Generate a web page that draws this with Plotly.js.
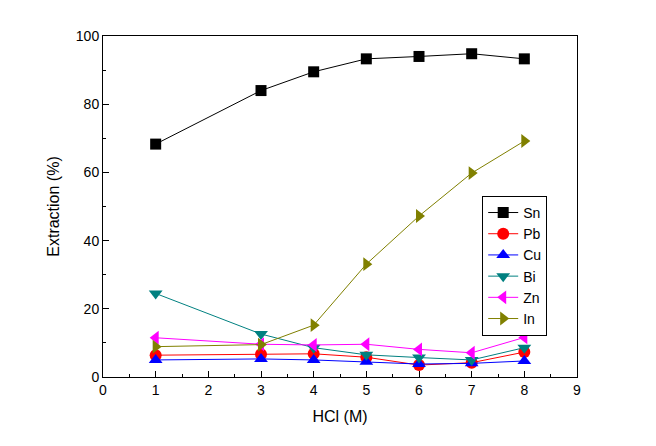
<!DOCTYPE html>
<html>
<head>
<meta charset="utf-8">
<script src="https://cdn.plot.ly/plotly-3.0.1.min.js"></script>
<style>
  body { margin: 0; background: #fff; }
  #chart { width: 656px; height: 446px; }
</style>
</head>
<body>
<div id="chart"></div>
<script>
// HCl concentration (M)
let hcl = [1, 3, 4, 5, 6, 7, 8];

// extraction (%) per metal
let sn = [68.3, 84.0, 89.5, 93.3, 94.0, 94.8, 93.3];
let pb = [6.4, 6.7, 6.8, 5.8, 3.5, 4.2, 7.3];
let cu = [5.0, 5.3, 5.0, 4.5, 3.8, 4.0, 4.7];
let bi = [24.5, 12.6, 8.6, 6.5, 5.7, 5.0, 8.6];
let zn = [11.5, 9.6, 9.4, 9.6, 8.1, 7.1, 11.6];
let inn = [8.9, 9.5, 15.2, 33.1, 47.2, 59.8, 69.2];

let names = ['Sn', 'Pb', 'Cu', 'Bi', 'Zn', 'In'];
let series = [sn, pb, cu, bi, zn, inn];
let colors = ['#000000', '#ff0000', '#0000ff', '#008080', '#ff00ff', '#808000'];
let symbols = ['square', 'circle', 'triangle-up', 'triangle-down', 'triangle-left', 'triangle-right'];
let sizes = [11, 12, 12, 12, 12, 12];

let traces = [];
for (let i = 0; i < names.length; i++) {
  traces.push({
    x: hcl,
    y: series[i],
    name: names[i],
    type: 'scatter',
    mode: 'lines+markers',
    line: {color: colors[i], width: 1},
    marker: {color: colors[i], symbol: symbols[i], size: sizes[i]}
  });
}

let fam = 'Liberation Sans, Arial, sans-serif';
let axisFont = {family: fam, size: 16, color: '#000'};

let layout = {
  width: 656,
  height: 446,
  margin: {l: 103, r: 79, t: 36, b: 69},
  paper_bgcolor: '#fff',
  plot_bgcolor: '#fff',
  font: {family: fam, size: 14, color: '#000'},
  showlegend: true,
  legend: {
    x: 0.80, y: 0.531, xanchor: 'left', yanchor: 'top',
    bordercolor: '#000', borderwidth: 1, bgcolor: '#fff',
    font: {family: fam, size: 14, color: '#000'},
    tracegroupgap: 0, itemwidth: 30
  },
  xaxis: {
    range: [0, 9],
    dtick: 1,
    showgrid: false,
    zeroline: false,
    showline: true,
    linecolor: '#000',
    linewidth: 1,
    mirror: true,
    ticks: 'inside',
    ticklen: 6,
    tickcolor: '#000',
    minor: {ticks: 'inside', ticklen: 3, dtick: 0.5, tickcolor: '#000', showgrid: false},
    title: {text: 'HCl (M)', font: axisFont, standoff: 14}
  },
  yaxis: {
    range: [0, 100],
    dtick: 20,
    showgrid: false,
    zeroline: false,
    showline: true,
    linecolor: '#000',
    linewidth: 1,
    mirror: true,
    ticks: 'inside',
    ticklen: 6,
    tickcolor: '#000',
    minor: {ticks: 'inside', ticklen: 3, dtick: 10, tickcolor: '#000', showgrid: false},
    title: {text: 'Extraction (%)', font: axisFont, standoff: 12}
  }
};

Plotly.newPlot('chart', traces, layout, {displayModeBar: false, staticPlot: true});
</script>
</body>
</html>
